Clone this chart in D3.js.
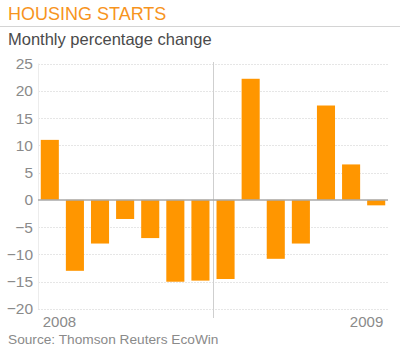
<!DOCTYPE html>
<html lang="en">
  <head>
    <meta charset="utf-8">
    <title>Housing starts</title>
    <script type="text/javascript" src="https://cdn.jsdelivr.net/npm/d3@7"></script>
    <style>
      body { margin: 0; background: #fff; }
      text { font-family: "Liberation Sans", Arial, sans-serif; }
    </style>
  </head>
  <body>
    <script type="text/javascript">
      var width = 400;
      var height = 350;

      // monthly percentage change
      var months = ["2008-01", "2008-02", "2008-03", "2008-04", "2008-05", "2008-06", "2008-07",
                    "2008-08", "2008-09", "2008-10", "2008-11", "2008-12", "2009-01", "2009-02"];
      var changes = [11, -13, -8, -3.5, -7, -15, -14.8, -14.5, 22.2, -10.8, -8, 17.3, 6.5, -1];
      var yTicks = [25, 20, 15, 10, 5, 0, -5, -10, -15, -20];
      var yearLabels = ["2008", "2009"];

      var svg = d3.select("body")
            .append("svg")
            .attr("width", width)
            .attr("height", height);

      var xScale = d3.scaleBand()
                     .domain(months)
                     .range([38, 388])
                     .paddingInner(0.28)
                     .paddingOuter(0.11);

      var yScale = d3.scaleLinear()
                     .domain([-20, 25])
                     .range([309, 63.5]);

      // title block
      svg.append("text")
         .attr("x", 8)
         .attr("y", 20)
         .attr("font-size", "18px")
         .attr("fill", "#f7941d")
         .text("HOUSING STARTS");

      svg.append("line")
         .attr("x1", 0).attr("x2", width)
         .attr("y1", 26.5).attr("y2", 26.5)
         .attr("stroke", "#d4d4d4")
         .attr("stroke-width", 1);

      svg.append("text")
         .attr("x", 8)
         .attr("y", 45)
         .attr("font-size", "16.5px")
         .attr("fill", "#4a4a4a")
         .text("Monthly percentage change");

      // grid
      svg.append("g")
         .selectAll("line")
         .data(yTicks.filter(function(d){ return d !== 0; }))
         .enter()
         .append("line")
         .attr("x1", 38).attr("x2", 388)
         .attr("y1", function(d){ return Math.round(yScale(d)) + 0.5; })
         .attr("y2", function(d){ return Math.round(yScale(d)) + 0.5; })
         .attr("stroke", "#e6e6e6")
         .attr("stroke-dasharray", "2,1");

      svg.append("line")
         .attr("x1", 38.5).attr("x2", 38.5)
         .attr("y1", yScale(25)).attr("y2", yScale(-20))
         .attr("stroke", "#ececec");

      // y axis labels
      var yAxis = d3.axisLeft(yScale)
                    .tickValues(yTicks)
                    .tickSize(0)
                    .tickPadding(5);
      var yg = svg.append("g")
                  .attr("transform", "translate(38,0)")
                  .call(yAxis);
      yg.select(".domain").remove();
      yg.selectAll("text")
        .attr("font-family", "\"Liberation Sans\", Arial, sans-serif")
        .attr("font-size", "15.5px")
        .attr("fill", "#8a8a8a");

      // divider in the middle
      var divX = xScale(months[7]) - xScale.step() * xScale.paddingInner() / 2;
      svg.append("line")
         .attr("x1", Math.round(divX) + 0.5).attr("x2", Math.round(divX) + 0.5)
         .attr("y1", 62).attr("y2", 318)
         .attr("stroke", "#cfcfcf");

      // bars
      svg.selectAll("rect")
         .data(changes)
         .enter()
         .append("rect")
         .attr("x", function(d, i){ return xScale(months[i]); })
         .attr("y", function(d){ return yScale(Math.max(0, d)); })
         .attr("width", xScale.bandwidth())
         .attr("height", function(d){ return Math.abs(yScale(d) - yScale(0)); })
         .attr("fill", "#ff9600");

      // zero line
      svg.append("line")
         .attr("x1", 38).attr("x2", 388)
         .attr("y1", yScale(0)).attr("y2", yScale(0))
         .attr("stroke", "#a8a8a8")
         .attr("stroke-width", 1.5);

      // year labels
      svg.append("text")
         .attr("x", xScale(months[0]) + 2)
         .attr("y", 327)
         .attr("font-size", "15px")
         .attr("fill", "#8a8a8a")
         .text(yearLabels[0]);

      svg.append("text")
         .attr("x", xScale(months[months.length - 1]) + xScale.bandwidth() - 2)
         .attr("y", 327)
         .attr("text-anchor", "end")
         .attr("font-size", "15px")
         .attr("fill", "#8a8a8a")
         .text(yearLabels[1]);

      svg.append("text")
         .attr("x", 8)
         .attr("y", 344)
         .attr("font-size", "13.7px")
         .attr("fill", "#8a8a8a")
         .text("Source: Thomson Reuters EcoWin");
    </script>
  </body>
</html>
